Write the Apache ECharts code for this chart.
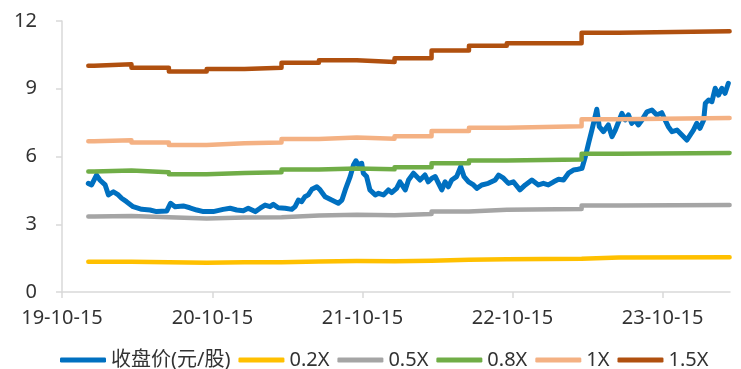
<!DOCTYPE html>
<html>
<head>
<meta charset="utf-8">
<script src="https://cdn.jsdelivr.net/npm/echarts@6/dist/echarts.min.js"></script>
<style>html,body{margin:0;padding:0;background:#fff;}#c{width:741px;height:369px;}</style>
</head>
<body>
<div id="c"></div>
<script>
const xMinDate = '2019-10-15';
const xMaxDate = '2024-03-27';
const tickDates = ['2019-10-15','2020-10-15','2021-10-15','2022-10-15','2023-10-15'];
const yTicks = [0, 3, 6, 9, 12];

const seriesNames = ['收盘价(元/股)','0.2X','0.5X','0.8X','1X','1.5X'];

const priceDates = ['2019-12-18','2019-12-26','2020-01-07','2020-01-15','2020-01-28','2020-02-05','2020-02-17','2020-02-29','2020-03-08','2020-03-20','2020-04-05','2020-04-26','2020-05-16','2020-06-01','2020-06-26','2020-07-05','2020-07-16','2020-08-05','2020-08-21','2020-09-07','2020-09-23','2020-10-17','2020-11-10','2020-11-27','2020-12-13','2020-12-29','2021-01-10','2021-01-27','2021-02-08','2021-02-20','2021-03-04','2021-03-12','2021-03-24','2021-04-10','2021-04-26','2021-05-04','2021-05-12','2021-05-20','2021-05-28','2021-06-05','2021-06-14','2021-06-26','2021-07-04','2021-07-16','2021-08-01','2021-08-17','2021-08-26','2021-09-03','2021-09-15','2021-09-23','2021-09-29','2021-10-05','2021-10-13','2021-10-17','2021-10-25','2021-11-02','2021-11-15','2021-11-23','2021-12-05','2021-12-17','2021-12-25','2022-01-06','2022-01-14','2022-01-27','2022-02-04','2022-02-16','2022-03-04','2022-03-16','2022-03-24','2022-04-02','2022-04-10','2022-04-18','2022-04-26','2022-05-04','2022-05-12','2022-05-20','2022-06-01','2022-06-11','2022-06-19','2022-06-30','2022-07-12','2022-07-20','2022-08-01','2022-08-17','2022-09-03','2022-09-11','2022-09-23','2022-10-05','2022-10-17','2022-11-02','2022-11-15','2022-12-01','2022-12-17','2022-12-29','2023-01-10','2023-01-23','2023-02-04','2023-02-16','2023-02-28','2023-03-12','2023-03-20','2023-04-02','2023-04-10','2023-04-18','2023-04-26','2023-05-02','2023-05-08','2023-05-14','2023-05-24','2023-06-05','2023-06-14','2023-06-22','2023-06-30','2023-07-08','2023-07-16','2023-07-24','2023-08-01','2023-08-09','2023-08-17','2023-08-26','2023-09-07','2023-09-19','2023-10-01','2023-10-13','2023-10-21','2023-10-29','2023-11-07','2023-11-19','2023-12-01','2023-12-13','2023-12-21','2023-12-29','2024-01-06','2024-01-14','2024-01-23','2024-01-27','2024-02-04','2024-02-12','2024-02-20','2024-02-28','2024-03-07','2024-03-15','2024-03-23'];
const priceValues = [4.81,4.74,5.18,4.96,4.74,4.30,4.44,4.30,4.15,4.00,3.78,3.66,3.63,3.56,3.59,3.93,3.78,3.81,3.73,3.63,3.56,3.56,3.66,3.71,3.63,3.60,3.71,3.56,3.71,3.85,3.78,3.88,3.73,3.71,3.66,3.78,4.07,4.00,4.22,4.30,4.55,4.66,4.52,4.22,4.07,3.93,4.07,4.52,5.11,5.62,5.81,5.62,5.70,5.26,5.11,4.52,4.30,4.37,4.30,4.52,4.40,4.59,4.88,4.52,4.96,5.26,4.96,5.18,4.88,5.04,5.11,4.81,4.52,4.88,4.66,4.96,5.11,5.55,5.11,4.88,4.74,4.59,4.74,4.81,4.96,5.18,5.04,4.81,4.88,4.52,4.74,4.96,4.74,4.81,4.74,4.88,4.99,4.96,5.26,5.40,5.42,5.48,5.99,6.59,7.17,7.62,8.09,7.32,7.10,7.40,6.88,7.17,7.54,7.91,7.62,7.84,7.47,7.62,7.40,7.62,7.98,8.06,7.84,7.94,7.62,7.32,7.10,7.17,6.95,6.73,6.95,7.17,7.47,7.25,7.62,8.36,8.50,8.43,9.02,8.72,9.02,8.80,9.24];

const bandDates = ['2019-12-18','2020-01-01','2020-04-01','2020-07-01','2020-10-01','2021-01-01','2021-04-01','2021-07-01','2021-10-01','2022-01-01','2022-04-01','2022-07-01','2022-10-01','2023-04-01','2023-07-01','2024-03-26'];
const pb02 = [1.34,1.34,1.32,1.30,1.32,1.32,1.35,1.37,1.36,1.38,1.43,1.45,1.47,1.53,1.54,1.54];
const pb05 = [3.34,3.36,3.31,3.26,3.30,3.31,3.39,3.42,3.40,3.45,3.57,3.64,3.67,3.83,3.85,3.85];
const pb08 = [5.34,5.38,5.30,5.21,5.27,5.30,5.42,5.47,5.43,5.52,5.70,5.82,5.87,6.12,6.16,6.16];
const pb10 = [6.68,6.72,6.62,6.51,6.59,6.62,6.77,6.84,6.79,6.90,7.13,7.27,7.34,7.65,7.70,7.70];
const pb15 = [10.02,10.08,9.93,9.76,9.88,9.93,10.15,10.26,10.18,10.35,10.69,10.90,11.01,11.48,11.55,11.55];

const colors = ['#0070C0','#FFC000','#A5A5A5','#70AD47','#F4B183','#B0500F'];

function ts(s){ const p = s.split('-').map(Number); return Date.UTC(p[0], p[1]-1, p[2]); }
function fmt(v){ const d = new Date(v); const yy = String(d.getUTCFullYear()).slice(2); const mm = String(d.getUTCMonth()+1).padStart(2,'0'); const dd = String(d.getUTCDate()).padStart(2,'0'); return yy+'-'+mm+'-'+dd; }
function zip(ds, vs){ return ds.map((d,i)=>[ts(d), vs[i]]); }

const FONT = "'Noto Sans', 'Noto Sans CJK SC', sans-serif";
const axisColor = '#d9d9d9';
const textColor = '#333333';

const chart = echarts.init(document.getElementById('c'), null, {renderer:'canvas'});
const bands = [pb02, pb05, pb08, pb10, pb15];
const series = [{
  name: seriesNames[0], type: 'line', symbol: 'none', data: zip(priceDates, priceValues),
  lineStyle: {width: 5, color: colors[0], cap: 'round', join: 'round'}, itemStyle:{color: colors[0]}, z: 2
}];
bands.forEach((b, i) => {
  series.push({
    name: seriesNames[i+1], type: 'line', symbol: 'none', step: 'end', data: zip(bandDates, b),
    lineStyle: {width: 4.5, color: colors[i+1], cap: 'round', join: 'round'}, itemStyle:{color: colors[i+1]}, z: 3
  });
});

chart.setOption({
  animation: false,
  color: colors,
  grid: {left: 62, right: 11, top: 21, bottom: 77, containLabel: false, outerBoundsMode: 'none'},
  legend: {
    left: 55, top: 345, itemWidth: 46, itemHeight: 5, itemGap: 8, icon: 'roundRect',
    textStyle: {fontFamily: FONT, fontSize: 20, color: textColor},
    data: seriesNames
  },
  xAxis: {
    type: 'value', min: ts(xMinDate), max: ts(xMaxDate),
    splitLine: {show: false},
    axisLine: {lineStyle: {color: axisColor, width: 1.5}},
    axisTick: {show: true, length: 6, lineStyle: {color: axisColor, width: 1.5}, customValues: tickDates.map(ts)},
    axisLabel: {customValues: tickDates.map(ts), formatter: v => fmt(v), fontFamily: FONT, fontSize: 20, color: textColor, margin: 16}
  },
  yAxis: {
    type: 'value', min: 0, max: 12, interval: 3,
    splitLine: {show: false},
    axisLine: {show: true, lineStyle: {color: axisColor, width: 1.5}},
    axisTick: {show: true, length: 6, lineStyle: {color: axisColor, width: 1.5}},
    axisLabel: {fontFamily: FONT, fontSize: 20, color: textColor, margin: 25,
      formatter: v => (yTicks.indexOf(v) >= 0 ? String(v) : '')}
  },
  series: series
});
</script>
</body>
</html>
